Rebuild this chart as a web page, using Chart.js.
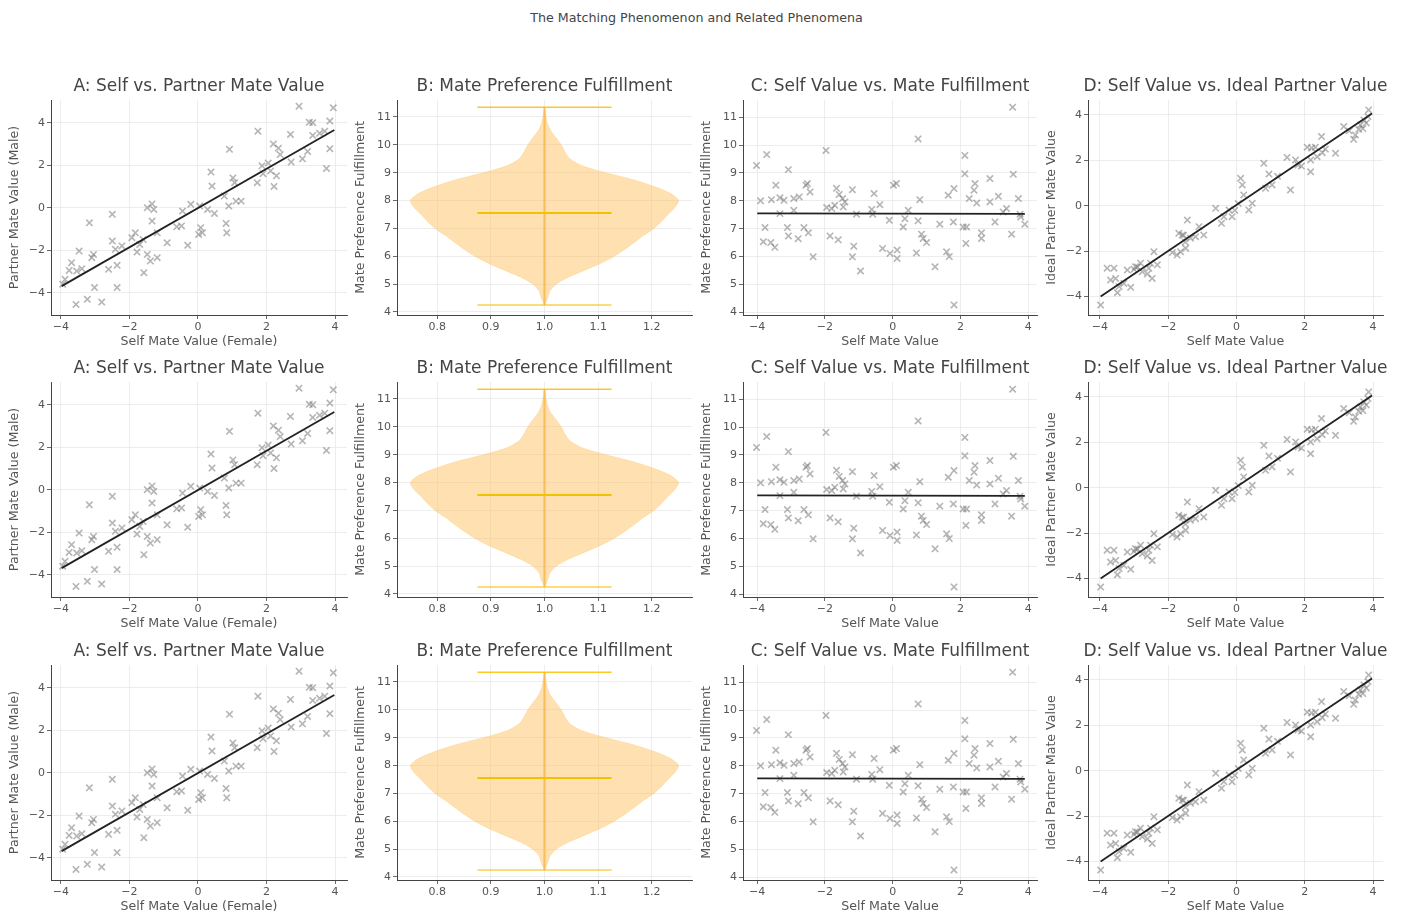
<!DOCTYPE html>
<html>
<head>
<meta charset="utf-8">
<script src="https://cdn.jsdelivr.net/npm/chart.js@4.4.1/dist/chart.umd.min.js"></script>
<style>
html, body { margin: 0; padding: 0; background: #fff; width: 1401px; height: 916px; overflow: hidden; }
#sup { position: absolute; left: 0; top: 10px; width: 1393px; text-align: center;
       font: 12.7px "DejaVu Sans"; line-height: 15px; color: #444; }
canvas { position: absolute; }
</style>
</head>
<body>
<div id="sup">The Matching Phenomenon and Related Phenomena</div>
<script>
// A: self vs partner mate value
var selfA = [2.95, 3.95, 3.35, 3.25, 3.85, 1.75, 2.7, 2.2, 3.55, 3.35, 3.7, 3.85, 0.92, 3.2, 2.35, 2.72, 3.05, 3.75, 1.87, 2.12,
  2.29, 2.22, 1.73, 0.38, 0.41, 1.02, 1.07, 1.26, 1.11, 0.9, 0.77, 0.28, 0.48, 0.05, -0.21, 0.82, 0.84, 0.08, 0.13, 0.02,
  -0.45, -0.48, -0.3, -1.29, -1.48, -1.34, -1.34, -1.19, -0.9, -1.83, -1.7, -1.78, -1.48, -1.39, -1.19, -1.58, -2.5, -2.5, -2.41, -2.22,
  -2.61, -2.36, -2.36, -3.17, -3.05, -3.1, -3.47, -3.69, -3.39, -3.54, -3.76, -3.88, -3.95, -3.02, -3.23, -3.56, -2.81, -1.93, -0.62, 2.05,
  2.4, -1.6, 1.9];
var partnerA = [4.78, 4.7, 4.0, 4.02, 4.08, 3.6, 3.45, 3.0, 3.5, 3.4, 3.6, 2.78, 2.75, 2.65, 2.8, 2.15, 2.3, 1.85, 1.97, 1.73,
  1.5, 1.0, 1.18, 1.68, 1.02, 1.4, 1.18, 0.31, 0.31, 0.08, 0.55, -0.08, -0.27, 0.08, 0.16, -0.74, -1.18, -0.94, -1.18, -1.26,
  -0.16, -0.86, -1.77, -0.08, 0.0, 0.18, -0.63, -1.18, -1.65, -1.18, -1.73, -2.09, -2.2, -2.51, -2.35, -3.06, -0.31, -1.57, -1.96, -1.8,
  -2.9, -2.71, -3.76, -0.71, -2.2, -2.35, -2.04, -2.59, -2.87, -2.98, -2.95, -3.37, -3.6, -3.76, -4.31, -4.55, -4.44, -1.41, -0.9, 2.1,
  2.5, -1.5, 1.6];
var fitAx = [-3.98, 3.98];
var fitAy = [-3.69, 3.66];

// B: violin of mate preference fulfillment (half widths)
var violinLevels = [4.25, 4.5, 4.75, 5.0, 5.25, 5.5, 5.75, 6.0, 6.25, 6.5, 6.75, 7.0, 7.25, 7.5, 7.75, 8.0,
  8.25, 8.5, 8.75, 9.0, 9.25, 9.5, 9.75, 10.0, 10.25, 10.5, 10.75, 11.0, 11.35];
var violinHalfWidth = [0, 0.006, 0.01, 0.022, 0.045, 0.075, 0.105, 0.13, 0.15, 0.168, 0.185, 0.204, 0.218, 0.23, 0.243, 0.25,
  0.235, 0.205, 0.165, 0.114, 0.07, 0.047, 0.038, 0.031, 0.022, 0.012, 0.006, 0.003, 0];
var violinMin = 4.25;
var violinMax = 11.35;
var violinMid = 7.55;

// C: self value vs fulfillment
var selfC = [-4.02, -3.72, -3.9, -3.77, -3.82, -3.6, -3.48, -3.45, -3.58, -3.33, -3.33, -3.08, -3.11, -3.08, -3.21, -2.92, -2.92, -2.79, -2.76, -2.56,
  -2.52, -2.62, -2.49, -2.44, -2.35, -1.97, -1.85, -1.95, -1.8, -1.71, -1.61, -1.66, -1.58, -1.48, -1.41, -1.46, -1.19, -1.15, -1.19, -1.07,
  -0.95, -0.59, -0.62, -0.55, -0.38, -0.3, -0.08, -0.1, 0.02, 0.11, 0.13, 0.13, 0.31, 0.36, 0.46, 0.7, 0.75, 0.75, 0.8, 0.85,
  0.9, 1.0, 1.25, 1.39, 1.59, 1.67, 1.64, 1.81, 1.81, 1.79, 2.13, 2.13, 2.08, 2.18, 2.16, 2.26, 2.43, 2.4, 2.48, 2.62,
  2.62, 2.87, 2.87, 3.02, 3.12, 3.26, 3.36, 3.51, 3.54, 3.56, 3.71, 3.76, 3.78, 3.9];
var fulfillC = [9.27, 9.66, 8.0, 7.04, 6.53, 6.5, 6.33, 8.56, 8.04, 8.11, 7.54, 9.12, 7.04, 6.74, 8.02, 8.08, 7.66, 6.64, 8.14, 8.56,
  8.62, 7.04, 6.85, 8.32, 5.99, 9.81, 6.74, 7.76, 7.72, 7.84, 6.6, 8.45, 8.23, 8.08, 7.96, 7.78, 8.4, 6.37, 5.99, 7.52,
  5.48, 7.52, 7.69, 8.26, 7.86, 6.29, 6.11, 7.3, 8.56, 8.62, 5.93, 6.23, 7.06, 7.36, 7.66, 6.13, 10.22, 7.28, 8.04, 6.8,
  6.65, 6.5, 5.63, 7.16, 6.17, 6.0, 8.2, 8.44, 4.26, 7.24, 9.63, 8.97, 7.06, 7.06, 6.47, 8.08, 8.62, 8.38, 7.92, 6.85,
  6.65, 8.8, 7.96, 7.24, 8.16, 7.6, 7.72, 6.8, 11.36, 8.95, 8.08, 7.52, 7.42, 7.16];
var fitCx = [-4.0, 3.9];
var fitCy = [7.55, 7.53];

// D: self value vs ideal partner value
var selfD = [-3.98, -3.79, -3.59, -3.69, -3.54, -3.44, -3.49, -3.3, -3.1, -3.2, -2.96, -2.81, -2.76, -2.61, -2.57, -2.47, -2.52, -2.42, -2.32, -1.88,
  -1.74, -1.64, -1.49, -1.69, -1.59, -1.44, -1.35, -1.2, -1.1, -0.96, -0.61, -0.44, -0.37, -0.22, -0.13, 0.12, 0.17, 0.21, 0.36, 0.46,
  0.8, 0.85, 0.95, 1.04, 1.73, 1.58, 2.07, 2.17, 2.17, 2.31, 2.36, 2.51, 2.49, 2.9, 3.14, 3.43, 3.48, 3.58, 3.63, 3.73,
  3.87, 3.85, 1.48, -3.0, -2.9, -1.55, -1.5, 1.2, 1.8, 1.9, 2.6, 3.3, 3.7, 3.8, 0.05, -0.05, 2.2];
var idealD = [-4.37, -2.75, -2.75, -3.27, -3.2, -3.56, -3.83, -3.42, -3.59, -2.83, -2.68, -2.53, -2.9, -3.0, -2.75, -3.2, -2.53, -2.02, -2.6, -2.06,
  -2.17, -2.02, -1.87, -1.21, -1.29, -0.63, -1.43, -1.36, -0.92, -1.29, -0.11, -0.77, -0.48, -0.18, -0.48, 1.21, 0.92, 0.48, -0.18, 0.11,
  1.87, 0.77, 1.4, 0.92, 2.02, 0.7, 2.58, 2.02, 1.5, 2.58, 2.16, 2.34, 3.05, 2.31, 3.49, 2.93, 3.12, 3.37, 3.56, 3.78,
  4.22, 3.93, 2.13, -2.8, -2.7, -1.3, -1.6, 1.3, 1.8, 1.75, 2.5, 3.3, 3.4, 3.65, 0.1, -0.2, 2.55];
var fitDx = [-3.98, 3.97];
var fitDy = [-4.0, 4.07];

var selfTicks = [-4, -2, 0, 2, 4];
var fulfillTicks = [4, 5, 6, 7, 8, 9, 10, 11];
var violinTicks = [0.8, 0.9, 1.0, 1.1, 1.2];

var titles = ['A: Self vs. Partner Mate Value', 'B: Mate Preference Fulfillment',
  'C: Self Value vs. Mate Fulfillment', 'D: Self Value vs. Ideal Partner Value'];

Chart.defaults.font.family = '"DejaVu Sans"';
Chart.defaults.color = '#555';

var rowTops = [100, 382, 665];
var colLefts = [51, 397, 743, 1088];
var plotW = [296, 295, 294, 295];
var plotH = 215;
var yAxW = 46, xAxH = 38, topPad = 30, rightPad = 18;

var panelTitle = {
  id: 'panelTitle',
  afterDraw: function (chart, args, opts) {
    var a = chart.chartArea, c = chart.ctx;
    c.save();
    c.font = '17px "DejaVu Sans"';
    c.fillStyle = '#444';
    c.textAlign = 'center';
    c.textBaseline = 'middle';
    c.fillText(opts.text, (a.left + a.right) / 2, a.top - 13);
    c.restore();
  }
};

function minus(v) { return String(v).replace('-', '\u2212'); }

function axis(min, max, ticks, label, isX, fmt) {
  return {
    type: 'linear', min: min, max: max,
    afterBuildTicks: function (s) { s.ticks = ticks.map(function (v) { return { value: v }; }); },
    afterFit: function (s) { if (isX) s.height = xAxH; else s.width = yAxW; },
    grid: { color: '#e8e8e8', lineWidth: 0.8, tickColor: '#444', tickLength: 4 },
    border: { color: '#444', width: 1 },
    ticks: { color: '#555', font: { size: 11 }, padding: 2, autoSkip: false, maxRotation: 0, callback: fmt || minus },
    title: { display: true, text: label, color: '#555', font: { size: 12.6 }, padding: { top: 2, bottom: 4 } }
  };
}

function pts(xs, ys) { return xs.map(function (x, i) { return { x: x, y: ys[i] }; }); }

function scatterSet(xs, ys) {
  return { type: 'scatter', data: pts(xs, ys), pointStyle: 'crossRot', pointRadius: 4.5,
    borderColor: 'rgba(120,120,120,0.55)', backgroundColor: 'rgba(120,120,120,0.55)', pointBorderWidth: 1.6 };
}
function lineSet(xs, ys, color, w) {
  return { type: 'line', data: pts(xs, ys), borderColor: color, borderWidth: w, pointRadius: 0, fill: false, showLine: true };
}

function violinShape() {
  var right = violinLevels.map(function (y, i) { return { x: 1 + violinHalfWidth[i], y: y }; });
  var left = violinLevels.map(function (y, i) { return { x: 1 - violinHalfWidth[i], y: y }; }).reverse();
  return right.concat(left);
}

function panelConfig(col) {
  var ds, scales;
  if (col === 0) {
    ds = [lineSet(fitAx, fitAy, '#222', 1.8), scatterSet(selfA, partnerA)];
    scales = { x: axis(-4.29, 4.35, selfTicks, 'Self Mate Value (Female)', true),
               y: axis(-5.05, 5.07, selfTicks, 'Partner Mate Value (Male)', false) };
  } else if (col === 1) {
    var bw = 0.125;
    ds = [
      lineSet([1 - bw, 1 + bw], [violinMid, violinMid], '#f2c200', 2),
      lineSet([1 - bw, 1 + bw], [violinMax, violinMax], 'rgba(250,190,0,0.85)', 1.5),
      lineSet([1 - bw, 1 + bw], [violinMin, violinMin], 'rgba(250,190,0,0.7)', 1.5),
      lineSet([1, 1], [violinMin, violinMax], 'rgba(255,170,40,0.6)', 2.2),
      { type: 'line', data: violinShape(), borderColor: 'rgba(255,190,90,0.3)', borderWidth: 1,
        backgroundColor: 'rgba(255,195,100,0.5)', pointRadius: 0, fill: 'shape', tension: 0.25 }
    ];
    scales = { x: axis(0.725, 1.275, violinTicks, '', true, function (v) { return v.toFixed(1); }),
               y: axis(3.89, 11.61, fulfillTicks, 'Mate Preference Fulfillment', false) };
    scales.x.title.display = false;
  } else if (col === 2) {
    ds = [lineSet(fitCx, fitCy, '#222', 1.8), scatterSet(selfC, fulfillC)];
    scales = { x: axis(-4.42, 4.26, selfTicks, 'Self Mate Value', true),
               y: axis(3.9, 11.62, fulfillTicks, 'Mate Preference Fulfillment', false) };
  } else {
    ds = [lineSet(fitDx, fitDy, '#222', 1.8), scatterSet(selfD, idealD)];
    scales = { x: axis(-4.35, 4.29, selfTicks, 'Self Mate Value', true),
               y: axis(-4.81, 4.66, selfTicks, 'Ideal Partner Mate Value', false) };
  }
  return {
    type: 'scatter',
    data: { datasets: ds },
    options: {
      responsive: false, animation: false, events: [],
      layout: { padding: { top: topPad, right: rightPad, left: 0, bottom: 0 } },
      scales: scales,
      plugins: { legend: { display: false }, tooltip: { enabled: false }, panelTitle: { text: titles[col] } }
    },
    plugins: [panelTitle]
  };
}

rowTops.forEach(function (top) {
  colLefts.forEach(function (left, col) {
    var cv = document.createElement('canvas');
    cv.width = yAxW + plotW[col] + rightPad;
    cv.height = topPad + plotH + xAxH;
    cv.style.left = (left - yAxW) + 'px';
    cv.style.top = (top - topPad) + 'px';
    document.body.appendChild(cv);
    new Chart(cv, panelConfig(col));
  });
});
</script>
</body>
</html>
